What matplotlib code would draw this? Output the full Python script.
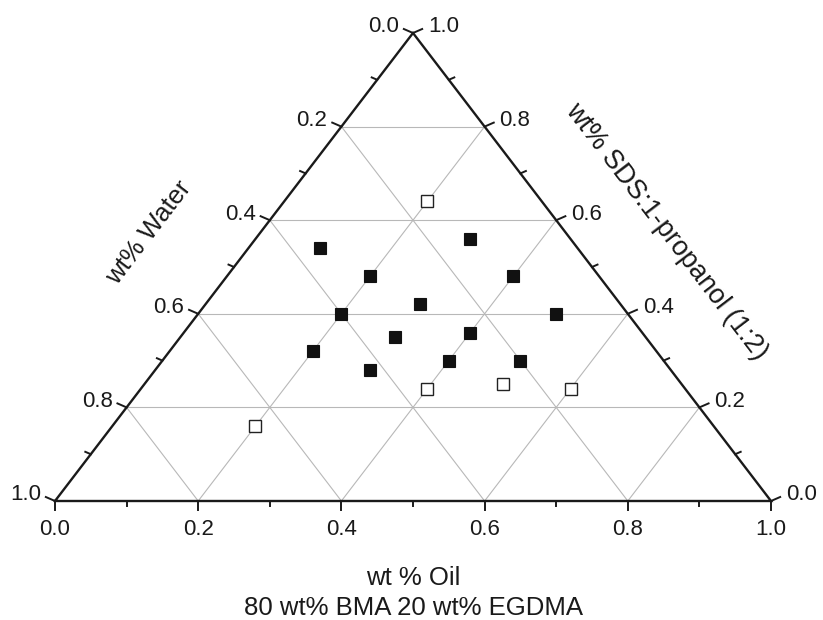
import numpy as np
import matplotlib
matplotlib.use('Agg')
from matplotlib import pyplot as plt

plt.rcParams['font.family'] = ['Liberation Sans', 'DejaVu Sans']

# ternary compositions (fractions): oil, SDS:1-propanol; water is the rest
filled_oil = [0.10, 0.20, 0.20, 0.20, 0.30, 0.30, 0.30, 0.30, 0.40, 0.40, 0.40, 0.50, 0.50]
filled_sds = [0.54, 0.48, 0.40, 0.32, 0.28, 0.35, 0.42, 0.56, 0.36, 0.30, 0.48, 0.40, 0.30]
open_oil = [0.20, 0.40, 0.50, 0.60, 0.20]
open_sds = [0.64, 0.24, 0.25, 0.24, 0.16]

ticks = [0.0, 0.2, 0.4, 0.6, 0.8, 1.0]
tick_labels = ['0.0', '0.2', '0.4', '0.6', '0.8', '1.0']
minor_ticks = [0.1, 0.3, 0.5, 0.7, 0.9]

bottom_title = 'wt % Oil\n80 wt% BMA 20 wt% EGDMA'
left_title = 'wt% Water'
right_title = 'wt% SDS:1-propanol (1:2)'


def tern(oil, sds):
    oil = np.asarray(oil, float)
    sds = np.asarray(sds, float)
    return oil + sds / 2.0, sds


W, H = 823, 620
my_dpi = 100
fig = plt.figure(figsize=(W / my_dpi, H / my_dpi), dpi=my_dpi)

# triangle corners in pixels: (55,501) (771,501) (413,33)
x0, x1, ybot, ytop = 55, 771, 501, 33
ax = fig.add_axes([x0 / W, (H - ybot) / H, (x1 - x0) / W, (ybot - ytop) / H])
ax.set_xlim(0, 1)
ax.set_ylim(0, 1)
ax.set_axis_off()

px = 1.0 / (x1 - x0)   # one pixel in data units
py = 1.0 / (ybot - ytop)

tick_fs = 16
ink = '#1a1a1a'

grid_kw = dict(color='#b8b8b8', lw=0.8, zorder=1)
for g in [0.2, 0.4, 0.6, 0.8]:
    # constant sds
    a = tern([0, 1 - g], [g, g])
    ax.plot(a[0], a[1], **grid_kw)
    # constant oil
    a = tern([g, g], [0, 1 - g])
    ax.plot(a[0], a[1], **grid_kw)
    # constant water
    a = tern([1 - g, 0], [0, 1 - g])
    ax.plot(a[0], a[1], **grid_kw)

# frame
fx, fy = tern([0, 1, 0, 0], [0, 0, 1, 0])
ax.plot(fx, fy, color=ink, lw=1.7, zorder=3, clip_on=False, solid_joinstyle='miter')

# tick directions (pixels)
c30, s30 = np.cos(np.radians(30)), np.sin(np.radians(30))
sq = (ybot - ytop) / ((x1 - x0) * 0.866)
left_dir = np.array([-c30, s30 * sq])
left_dir /= np.hypot(*left_dir)
right_dir = np.array([c30, s30 * sq])
right_dir /= np.hypot(*right_dir)
tk = dict(color=ink, lw=1.4, clip_on=False, zorder=3)

for t, lab in zip(ticks, tick_labels):
    # bottom axis (oil)
    bx, by = tern(t, 0)
    ax.plot([bx, bx], [by, by - 9 * py], **tk)
    ax.text(bx, by - 18 * py, lab, ha='center', va='top', fontsize=tick_fs, color=ink)
    # left axis (water): water = t -> sds = 1 - t, oil = 0
    lx, ly = tern(0, 1 - t)
    ax.plot([lx, lx + 10 * left_dir[0] * px], [ly, ly + 10 * left_dir[1] * py], **tk)
    ax.text(lx - 14 * px, ly + 6 * py, lab, ha='right', va='center', fontsize=tick_fs, color=ink)
    # right axis (sds): oil = 1 - t
    rx, ry = tern(1 - t, t)
    ax.plot([rx, rx + 10 * right_dir[0] * px], [ry, ry + 10 * right_dir[1] * py], **tk)
    ax.text(rx + 15 * px, ry + 6 * py, lab, ha='left', va='center', fontsize=tick_fs, color=ink)

for t in minor_ticks:
    bx, by = tern(t, 0)
    ax.plot([bx, bx], [by, by - 5 * py], **tk)
    lx, ly = tern(0, 1 - t)
    ax.plot([lx, lx + 6 * left_dir[0] * px], [ly, ly + 6 * left_dir[1] * py], **tk)
    rx, ry = tern(1 - t, t)
    ax.plot([rx, rx + 6 * right_dir[0] * px], [ry, ry + 6 * right_dir[1] * py], **tk)

# data points
fxp, fyp = tern(filled_oil, filled_sds)
ax.plot(fxp, fyp, 's', ms=8, mfc='#111111', mec='#111111', mew=0.8, ls='none', zorder=5, clip_on=False)
oxp, oyp = tern(open_oil, open_sds)
ax.plot(oxp, oyp, 's', ms=8, mfc='white', mec='#222222', mew=1.0, ls='none', zorder=5, clip_on=False)

# titles
ang = np.degrees(np.arctan2(ybot - ytop, (x1 - x0) / 2.0))
fig.text(413 / W, 1 - 593 / H, bottom_title, ha='center', va='center', fontsize=18.5,
         color=ink, linespacing=1.36)
fig.text(149 / W, 1 - 233 / H, left_title, ha='center', va='center', fontsize=18.5,
         rotation=ang, rotation_mode='anchor', color=ink)
fig.text(666 / W, 1 - 231 / H, right_title, ha='center', va='center', fontsize=19.5,
         rotation=-ang, rotation_mode='anchor', color=ink)

plt.savefig('out.png', dpi=my_dpi)
plt.close()
